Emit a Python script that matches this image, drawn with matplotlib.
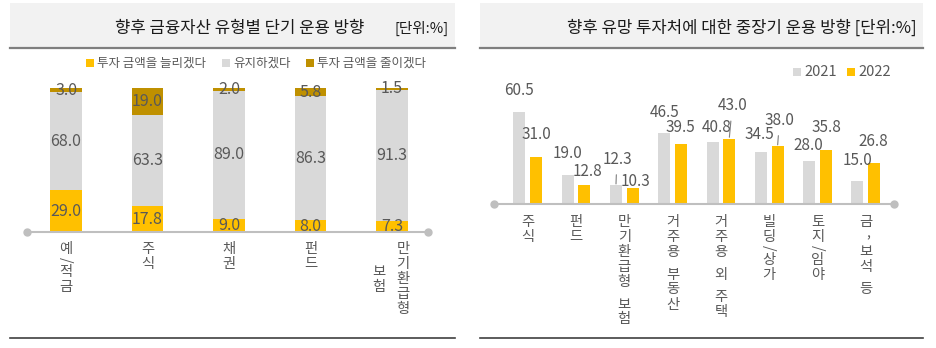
import numpy as np
import matplotlib.pyplot as plt
from matplotlib.patches import Rectangle
from matplotlib.lines import Line2D

plt.rcParams['font.family'] = ['Noto Sans CJK KR', 'DejaVu Sans']

# short-term plan by asset type (%)
assets = ['예/적금', '주식', '채권', '펀드', '만기환급형 보험']
increase = [29.0, 17.8, 9.0, 8.0, 7.3]
keep = [68.0, 63.3, 89.0, 86.3, 91.3]
decrease = [3.0, 19.0, 2.0, 5.8, 1.5]
plan_names = ['투자 금액을 늘리겠다', '유지하겠다', '투자 금액을 줄이겠다']

# mid/long-term promising investment targets (%)
targets = ['주식', '펀드', '만기환급형 보험', '거주용 부동산', '거주용 외 주택',
           '빌딩/상가', '토지/임야', '금, 보석 등']
y2021 = [60.5, 19.0, 12.3, 46.5, 40.8, 34.5, 28.0, 15.0]
y2022 = [31.0, 12.8, 10.3, 39.5, 43.0, 38.0, 35.8, 26.8]
years = ['2021', '2022']

# label offsets from bar tops (pixels) and which labels get a leader line
off2021 = [(0, 22), (0, 22), (1, 26), (0, 21), (4, 14), (-1, 17), (-1, 16), (0, 21)]
off2022 = [(0, 22), (3, 13), (3, 7), (-1, 16), (3, 33), (2, 26), (1, 22), (-1, 22)]
lead2021 = [2]
lead2022 = [4, 5]

YELLOW = '#ffc000'
GRAY = '#d9d9d9'
GOLD = '#bf9000'
TXT = '#595959'

W, H = 936, 348
fig = plt.figure(figsize=(W / 100, H / 100), dpi=100)


def fx(x):
    return x / W


def fy(y):
    return 1 - y / H


def panel_frame(x0, x1, title, unit=None, title_x=None):
    fig.add_artist(Rectangle((fx(x0), fy(47)), fx(x1 - x0), 44 / H,
                             transform=fig.transFigure, color='#f2f2f2', lw=0))
    fig.add_artist(Line2D([fx(x0), fx(x1)], [fy(48), fy(48)],
                          transform=fig.transFigure, color='#7f7f7f', lw=1.6))
    fig.add_artist(Line2D([fx(x0), fx(x1)], [fy(338), fy(338)],
                          transform=fig.transFigure, color='#404040', lw=1.2))
    if unit is None:
        fig.text(fx(x1 - 6), fy(28), title, ha='right', va='center',
                 fontsize=12, color='#1a1a1a')
    else:
        fig.text(fx(title_x), fy(28), title, ha='center', va='center',
                 fontsize=12, color='#1a1a1a')
        fig.text(fx(x1 - 6), fy(28), unit, ha='right', va='center',
                 fontsize=10.5, color='#1a1a1a')


def legend_item(x, y, color, label, size=9):
    fig.add_artist(Rectangle((fx(x), fy(y + 4)), 8 / W, 8 / H,
                             transform=fig.transFigure, color=color, lw=0))
    fig.text(fx(x + 11), fy(y), label, ha='left', va='center',
             fontsize=size, color=TXT)


def stacked(ax, x, text, dx=0, top=10, step=15):
    # one character per row, slashes turned sideways
    y = top
    for ch in text:
        if ch == ' ':
            y += step * 0.5
            continue
        rot = -90 if ch == '/' else 0
        cdx = dx + (2 if ch == ',' else 0)
        cy = y - (4 if ch == ',' else 0)
        ax.annotate(ch, (x, 0), xycoords=('data', 'axes fraction'),
                    xytext=(cdx, -cy), textcoords='offset pixels',
                    ha='center', va='top', fontsize=10.3, color=TXT,
                    rotation=rot, annotation_clip=False)
        if ch == ',':
            y += step * 0.5
        elif ch == '/':
            y += step * 0.55
        else:
            y += step


def base_line(ax):
    xl = ax.get_xlim()
    ax.plot(xl, [0, 0], color='#bfbfbf', lw=1.5, marker='o', ms=5,
            clip_on=False, zorder=3)
    ax.set_xlim(xl)
    ax.axis('off')


# ---- left panel: stacked bars
panel_frame(10, 455, '향후 금융자산 유형별 단기 운용 방향', '[단위:%]', 240)
legend_item(86, 63, YELLOW, plan_names[0])
legend_item(222, 63, GRAY, plan_names[1])
legend_item(306, 63, GOLD, plan_names[2])

ax1 = fig.add_axes([fx(27), fy(232), (428 - 27) / W, (232 - 88) / H])
x1 = np.arange(len(assets))
ax1.set_xlim((27 - 66) / 81.5, (428 - 66) / 81.5)
ax1.set_ylim(0, 100)
inc = np.array(increase)
kp = np.array(keep)
dec = np.array(decrease)
ax1.bar(x1, inc, 0.39, color=YELLOW, lw=0)
ax1.bar(x1, kp, 0.39, bottom=inc, color=GRAY, lw=0)
ax1.bar(x1, dec, 0.39, bottom=inc + kp, color=GOLD, lw=0)
for i in range(len(assets)):
    for bottom, val in [(0, inc[i]), (inc[i], kp[i]), (inc[i] + kp[i], dec[i])]:
        ax1.text(x1[i], bottom + val / 2, f'{val:.1f}', ha='center',
                 va='center', fontsize=11.5, color=TXT, clip_on=False)
base_line(ax1)
for i, name in enumerate(assets):
    parts = name.split(' ')
    if len(parts) == 2:
        stacked(ax1, x1[i], parts[0], dx=11)
        stacked(ax1, x1[i], parts[1], dx=-13, top=10 + 23)
    else:
        stacked(ax1, x1[i], name)

# ---- right panel: grouped bars
panel_frame(480, 923, '향후 유망 투자처에 대한 중장기 운용 방향 [단위:%]')
legend_item(793, 72, GRAY, years[0], size=10.5)
legend_item(847, 72, YELLOW, years[1], size=10.5)

ax2 = fig.add_axes([fx(494), fy(204), 400 / W, (204 - 97.6) / H])
x2 = np.arange(len(targets))
ax2.set_xlim((494 - 527.7) / 48.3, (894 - 527.7) / 48.3)
ax2.set_ylim(0, 70)
ax2.bar(x2 - 0.173, y2021, 0.248, color=GRAY, lw=0)
ax2.bar(x2 + 0.173, y2022, 0.248, color=YELLOW, lw=0)
for vals, offs, leads, shift in [(y2021, off2021, lead2021, -0.173),
                                 (y2022, off2022, lead2022, 0.173)]:
    for i, v in enumerate(vals):
        arrow = None
        if i in leads:
            arrow = dict(arrowstyle='-', color='#7f7f7f', lw=0.8,
                         shrinkA=3, shrinkB=1)
        ax2.annotate(f'{v:.1f}', (x2[i] + shift, v), xytext=offs[i],
                     textcoords='offset pixels', ha='center', va='center',
                     fontsize=11, color=TXT, arrowprops=arrow,
                     annotation_clip=False)
base_line(ax2)
for i, name in enumerate(targets):
    stacked(ax2, x2[i], name, top=11)

fig.savefig('out.png', dpi=100)
